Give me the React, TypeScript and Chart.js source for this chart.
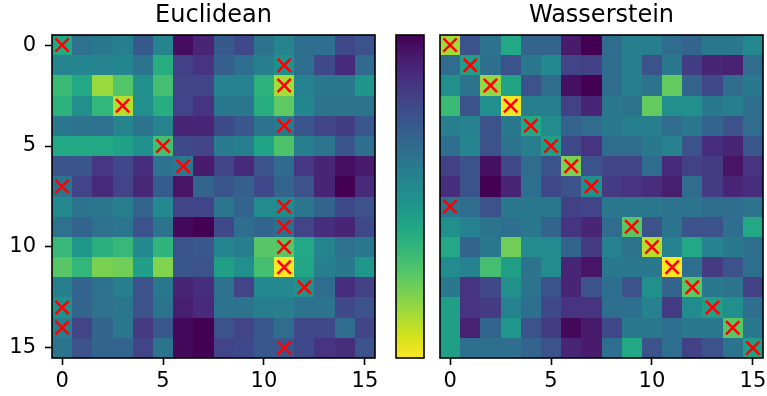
import React, { useEffect, useRef } from "react";
import { Chart, registerables } from "chart.js";

Chart.register(...registerables);

const FONT = "DejaVu Sans";
const titles = ["Euclidean", "Wasserstein"];
const tickValues = [0, 5, 10, 15];
const gridSize = 16;
const colorRange = [0, 1];

// colour-scale position of each cell (1 = yellow end, 0 = purple end), rows top to bottom
const euclideanScores: number[][] = [
  [0.6, 0.37, 0.4, 0.43, 0.28, 0.45, 0.03, 0.1, 0.28, 0.22, 0.38, 0.45, 0.36, 0.36, 0.22, 0.25],
  [0.45, 0.46, 0.45, 0.46, 0.38, 0.62, 0.19, 0.15, 0.3, 0.36, 0.43, 0.5, 0.36, 0.22, 0.12, 0.34],
  [0.68, 0.6, 0.85, 0.73, 0.5, 0.7, 0.2, 0.2, 0.44, 0.44, 0.64, 0.87, 0.44, 0.4, 0.4, 0.52],
  [0.64, 0.5, 0.66, 0.89, 0.5, 0.62, 0.2, 0.15, 0.4, 0.4, 0.62, 0.75, 0.46, 0.38, 0.38, 0.38],
  [0.4, 0.38, 0.37, 0.45, 0.38, 0.45, 0.1, 0.1, 0.23, 0.27, 0.38, 0.41, 0.26, 0.2, 0.18, 0.27],
  [0.6, 0.6, 0.6, 0.57, 0.5, 0.7, 0.22, 0.2, 0.41, 0.43, 0.58, 0.72, 0.43, 0.39, 0.26, 0.36],
  [0.25, 0.26, 0.16, 0.22, 0.13, 0.38, 0.4, 0.07, 0.2, 0.12, 0.25, 0.34, 0.16, 0.1, 0.04, 0.07],
  [0.38, 0.2, 0.12, 0.2, 0.11, 0.29, 0.05, 0.32, 0.26, 0.3, 0.22, 0.32, 0.25, 0.1, 0.0, 0.12],
  [0.47, 0.38, 0.39, 0.43, 0.32, 0.47, 0.2, 0.2, 0.39, 0.32, 0.48, 0.48, 0.39, 0.32, 0.22, 0.25],
  [0.37, 0.32, 0.37, 0.39, 0.25, 0.38, 0.02, 0.0, 0.22, 0.36, 0.32, 0.36, 0.2, 0.13, 0.1, 0.22],
  [0.67, 0.53, 0.63, 0.67, 0.47, 0.65, 0.25, 0.27, 0.45, 0.43, 0.74, 0.74, 0.6, 0.45, 0.37, 0.4],
  [0.74, 0.66, 0.8, 0.78, 0.56, 0.81, 0.26, 0.25, 0.56, 0.5, 0.7, 1.0, 0.59, 0.43, 0.4, 0.53],
  [0.43, 0.32, 0.37, 0.43, 0.25, 0.4, 0.1, 0.13, 0.37, 0.2, 0.47, 0.47, 0.5, 0.35, 0.13, 0.19],
  [0.5, 0.32, 0.37, 0.39, 0.25, 0.38, 0.08, 0.12, 0.38, 0.38, 0.43, 0.43, 0.38, 0.38, 0.22, 0.25],
  [0.43, 0.2, 0.32, 0.4, 0.17, 0.27, 0.02, 0.0, 0.25, 0.2, 0.27, 0.35, 0.22, 0.22, 0.35, 0.2],
  [0.38, 0.25, 0.32, 0.32, 0.2, 0.38, 0.02, 0.0, 0.2, 0.22, 0.27, 0.27, 0.22, 0.15, 0.13, 0.25],
];

const wassersteinScores: number[][] = [
  [0.86, 0.25, 0.38, 0.6, 0.32, 0.32, 0.07, 0.0, 0.35, 0.43, 0.43, 0.35, 0.32, 0.4, 0.4, 0.47],
  [0.35, 0.56, 0.36, 0.25, 0.4, 0.47, 0.2, 0.19, 0.35, 0.43, 0.25, 0.4, 0.18, 0.1, 0.09, 0.35],
  [0.5, 0.38, 0.84, 0.58, 0.25, 0.35, 0.04, 0.0, 0.35, 0.43, 0.38, 0.76, 0.32, 0.22, 0.35, 0.4],
  [0.68, 0.25, 0.5, 0.98, 0.43, 0.43, 0.19, 0.1, 0.4, 0.38, 0.76, 0.5, 0.5, 0.4, 0.43, 0.36],
  [0.43, 0.44, 0.25, 0.4, 0.6, 0.48, 0.32, 0.35, 0.4, 0.43, 0.43, 0.35, 0.4, 0.32, 0.25, 0.35],
  [0.36, 0.45, 0.25, 0.38, 0.43, 0.56, 0.22, 0.15, 0.35, 0.35, 0.4, 0.44, 0.25, 0.13, 0.1, 0.27],
  [0.19, 0.25, 0.04, 0.22, 0.35, 0.25, 0.8, 0.25, 0.2, 0.2, 0.35, 0.12, 0.19, 0.17, 0.05, 0.15],
  [0.13, 0.25, 0.0, 0.1, 0.36, 0.22, 0.25, 0.5, 0.17, 0.15, 0.13, 0.08, 0.35, 0.17, 0.1, 0.13],
  [0.38, 0.35, 0.25, 0.4, 0.4, 0.4, 0.19, 0.2, 0.4, 0.4, 0.4, 0.38, 0.38, 0.35, 0.35, 0.38],
  [0.5, 0.44, 0.38, 0.36, 0.4, 0.32, 0.15, 0.1, 0.35, 0.74, 0.25, 0.38, 0.25, 0.25, 0.36, 0.6],
  [0.6, 0.32, 0.4, 0.78, 0.48, 0.48, 0.32, 0.17, 0.44, 0.38, 0.89, 0.44, 0.6, 0.44, 0.4, 0.36],
  [0.48, 0.44, 0.7, 0.56, 0.38, 0.48, 0.1, 0.05, 0.4, 0.4, 0.4, 1.0, 0.36, 0.17, 0.25, 0.36],
  [0.4, 0.15, 0.22, 0.5, 0.38, 0.25, 0.1, 0.25, 0.36, 0.25, 0.5, 0.32, 0.74, 0.4, 0.38, 0.19],
  [0.56, 0.15, 0.17, 0.44, 0.36, 0.22, 0.15, 0.15, 0.36, 0.36, 0.44, 0.17, 0.48, 0.56, 0.5, 0.36],
  [0.56, 0.09, 0.32, 0.53, 0.25, 0.17, 0.02, 0.07, 0.22, 0.4, 0.4, 0.36, 0.4, 0.4, 0.74, 0.4],
  [0.56, 0.36, 0.36, 0.36, 0.32, 0.25, 0.1, 0.07, 0.36, 0.6, 0.25, 0.36, 0.19, 0.25, 0.38, 0.56],
];

// column of the red cross in each row
const euclideanMatch = [0, 11, 11, 3, 11, 5, 6, 0, 11, 11, 11, 11, 12, 0, 0, 11];
const wassersteinMatch = [0, 1, 2, 3, 4, 5, 6, 7, 0, 9, 10, 11, 12, 13, 14, 15];

const viridisStops = [
  "#440154", "#481a6c", "#472f7d", "#414487", "#39568c", "#31688e", "#2a788e", "#23888e",
  "#1f988b", "#22a884", "#35b779", "#54c568", "#7ad151", "#a5db36", "#d2e21b", "#fde725",
];

function hexToRgb(h: string) {
  return [parseInt(h.slice(1, 3), 16), parseInt(h.slice(3, 5), 16), parseInt(h.slice(5, 7), 16)];
}
const viridisRgb = viridisStops.map(hexToRgb);

function viridis(v: number) {
  const t = Math.max(0, Math.min(1, (v - colorRange[0]) / (colorRange[1] - colorRange[0])));
  const pos = t * (viridisRgb.length - 1);
  const i = Math.min(Math.floor(pos), viridisRgb.length - 2);
  const f = pos - i;
  const a = viridisRgb[i];
  const b = viridisRgb[i + 1];
  const c = a.map((x, k) => Math.round(x + (b[k] - x) * f));
  return `rgb(${c[0]},${c[1]},${c[2]})`;
}

const framePlugin = {
  id: "frame",
  afterDatasetsDraw(chart: any) {
    const { ctx, chartArea } = chart;
    ctx.save();
    ctx.strokeStyle = "#000";
    ctx.lineWidth = 1.6;
    ctx.strokeRect(chartArea.left, chartArea.top, chartArea.right - chartArea.left, chartArea.bottom - chartArea.top);
    ctx.restore();
  },
};

function makeCellsPlugin(matrix: number[][]) {
  return {
    id: "cells",
    beforeDatasetsDraw(chart: any) {
      const { ctx } = chart;
      const xs = chart.scales.x;
      const ys = chart.scales.y;
      ctx.save();
      for (let r = 0; r < gridSize; r++) {
        for (let c = 0; c < gridSize; c++) {
          const x0 = Math.round(xs.getPixelForValue(c - 0.5));
          const x1 = Math.round(xs.getPixelForValue(c + 0.5));
          const ya = Math.round(ys.getPixelForValue(r - 0.5));
          const yb = Math.round(ys.getPixelForValue(r + 0.5));
          ctx.fillStyle = viridis(matrix[r][c]);
          ctx.fillRect(Math.min(x0, x1), Math.min(ya, yb), Math.abs(x1 - x0), Math.abs(yb - ya));
        }
      }
      ctx.restore();
    },
  };
}

function makeTitlePlugin(text: string) {
  return {
    id: "panelTitle",
    afterDraw(chart: any) {
      const { ctx, chartArea } = chart;
      ctx.save();
      ctx.fillStyle = "#000";
      ctx.font = `24px "${FONT}"`;
      ctx.textAlign = "center";
      ctx.textBaseline = "alphabetic";
      ctx.fillText(text, (chartArea.left + chartArea.right) / 2, 22);
      ctx.restore();
    },
  };
}

function setTicks(s: any) {
  s.ticks = tickValues.map((v) => ({ value: v }));
}

function makeHeatmap(canvas: HTMLCanvasElement, matrix: number[][], match: number[], title: string, showY: boolean, padding: any) {
  return new Chart(canvas, {
    type: "scatter",
    data: {
      datasets: [
        {
          data: match.map((c, r) => ({ x: c, y: r })),
          pointStyle: "crossRot",
          pointRadius: 9.4,
          pointHoverRadius: 9.4,
          borderColor: "#ff0000",
          backgroundColor: "#ff0000",
          borderWidth: 2.5,
          pointBorderWidth: 2.5,
        },
      ],
    },
    options: {
      animation: false,
      responsive: true,
      maintainAspectRatio: false,
      events: [],
      layout: { padding, autoPadding: false },
      plugins: { legend: { display: false }, tooltip: { enabled: false }, title: { display: false } },
      scales: {
        x: {
          type: "linear",
          min: -0.5,
          max: 15.5,
          afterBuildTicks: setTicks,
          afterFit: (s: any) => {
            s.height = 38;
            s.paddingLeft = 0;
            s.paddingRight = 0;
          },
          grid: { display: true, drawOnChartArea: false, drawTicks: true, tickLength: 7, tickWidth: 1.6, tickColor: "#000" },
          border: { display: false },
          ticks: { color: "#000", font: { family: FONT, size: 21 }, padding: 4, maxRotation: 0, autoSkip: false },
        },
        y: {
          type: "linear",
          reverse: true,
          min: -0.5,
          max: 15.5,
          display: showY,
          afterBuildTicks: setTicks,
          afterFit: (s: any) => {
            s.width = showY ? 52 : 0;
            s.paddingTop = 0;
            s.paddingBottom = 0;
          },
          grid: { display: true, drawOnChartArea: false, drawTicks: true, tickLength: 7, tickWidth: 1.6, tickColor: "#000" },
          border: { display: false },
          ticks: { color: "#000", font: { family: FONT, size: 21 }, padding: 9, autoSkip: false },
        },
      },
    } as any,
    plugins: [makeCellsPlugin(matrix), framePlugin, makeTitlePlugin(title)],
  });
}

function makeColorbar(canvas: HTMLCanvasElement) {
  const barPlugin = {
    id: "colorbar",
    beforeDatasetsDraw(chart: any) {
      const { ctx, chartArea } = chart;
      const ys = chart.scales.y;
      ctx.save();
      const top = Math.round(chartArea.top);
      const bottom = Math.round(chartArea.bottom);
      for (let py = top; py < bottom; py++) {
        const v = ys.getValueForPixel(py + 0.5);
        ctx.fillStyle = viridis(v);
        ctx.fillRect(chartArea.left, py, chartArea.right - chartArea.left, 1);
      }
      ctx.restore();
    },
  };
  return new Chart(canvas, {
    type: "scatter",
    data: { datasets: [{ data: [] }] },
    options: {
      animation: false,
      responsive: true,
      maintainAspectRatio: false,
      events: [],
      layout: { padding: { left: 11, right: 6, top: 35, bottom: 38 }, autoPadding: false },
      plugins: { legend: { display: false }, tooltip: { enabled: false } },
      scales: {
        x: { type: "linear", display: false, min: 0, max: 1 },
        y: { type: "linear", display: false, reverse: true, min: colorRange[0], max: colorRange[1] },
      },
    } as any,
    plugins: [barPlugin, framePlugin],
  });
}

export default function App() {
  const leftRef = useRef<HTMLCanvasElement>(null);
  const barRef = useRef<HTMLCanvasElement>(null);
  const rightRef = useRef<HTMLCanvasElement>(null);

  useEffect(() => {
    const charts = [
      makeHeatmap(leftRef.current!, euclideanScores, euclideanMatch, titles[0], true, { left: 0, right: 10, top: 35, bottom: 0 }),
      makeColorbar(barRef.current!),
      makeHeatmap(rightRef.current!, wassersteinScores, wassersteinMatch, titles[1], false, { left: 10, right: 4, top: 35, bottom: 0 }),
    ];
    return () => charts.forEach((c) => c.destroy());
  }, []);

  return (
    <div style={{ position: "absolute", left: 0, top: 0, width: 767, height: 396, background: "#fff", overflow: "hidden" }}>
      <div style={{ position: "absolute", left: 0, top: 0, width: 385, height: 396 }}>
        <canvas ref={leftRef} />
      </div>
      <div style={{ position: "absolute", left: 385, top: 0, width: 45, height: 396 }}>
        <canvas ref={barRef} />
      </div>
      <div style={{ position: "absolute", left: 430, top: 0, width: 337, height: 396 }}>
        <canvas ref={rightRef} />
      </div>
    </div>
  );
}
